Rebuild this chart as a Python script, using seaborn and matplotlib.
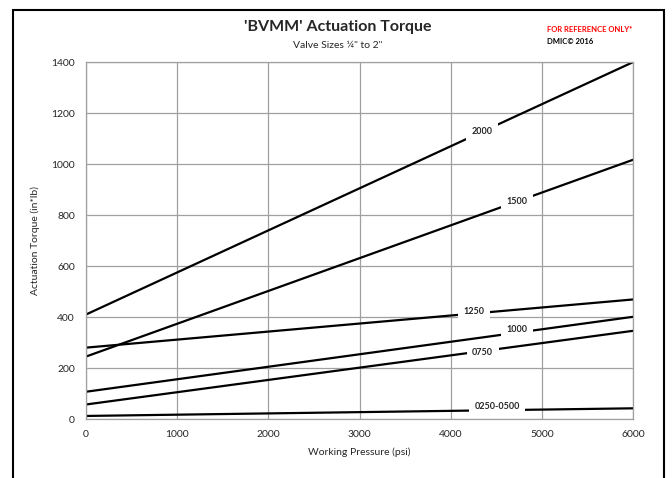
import matplotlib
matplotlib.use('Agg')
import matplotlib.pyplot as plt
import matplotlib.patches as mpatches
import seaborn as sns
import numpy as np
import pandas as pd

# Data (straight lines, torque at 0 and 6000 psi)
pressure = [0, 6000]
series_names = ['2000', '1500', '1250', '1000', '0750', '0250-0500']
torque_start = [410, 245, 280, 107, 57, 12]
torque_end = [1400, 1017, 469, 401, 346, 42]
label_pressure = [4340, 4730, 4260, 4730, 4350, 4510]
label_nudge = [0, 0, 8, 14, -6, 16]

x_ticks = [0, 1000, 2000, 3000, 4000, 5000, 6000]
y_ticks = [0, 200, 400, 600, 800, 1000, 1200, 1400]

rows = []
for name, t0, t1 in zip(series_names, torque_start, torque_end):
    rows.append({'size': name, 'pressure': pressure[0], 'torque': t0})
    rows.append({'size': name, 'pressure': pressure[1], 'torque': t1})
df = pd.DataFrame(rows)

sns.set_style("white")
plt.rcParams['font.family'] = ['Lato', 'DejaVu Sans']

fig = plt.figure(figsize=(6.72, 4.78), dpi=100)
ax = fig.add_axes([0.128, 0.1234, 0.814, 0.7466])

sns.lineplot(data=df, x='pressure', y='torque', hue='size',
             palette=['black'] * len(series_names), linewidth=1.6,
             legend=False, ax=ax)

# inline series labels with white boxes breaking the line
for name, t0, t1, xp, dy in zip(series_names, torque_start, torque_end,
                                label_pressure, label_nudge):
    yv = np.interp(xp, pressure, [t0, t1]) + dy
    ax.text(xp, yv, name, fontsize=6.5, fontweight='bold', ha='center',
            va='center', zorder=5,
            bbox=dict(boxstyle='square,pad=0.6', fc='white', ec='none'))

ax.set_xlim(0, 6000)
ax.set_ylim(0, 1400)
ax.set_xticks(x_ticks)
ax.set_yticks(y_ticks)
ax.grid(True, color='#a0a0a0', linewidth=0.9)
ax.set_axisbelow(True)
for s in ax.spines.values():
    s.set_color('#a0a0a0')
    s.set_linewidth(0.9)
ax.tick_params(axis='both', labelsize=7.5, length=3, color='#a0a0a0', pad=5)
ax.set_xlabel('Working Pressure (psi)', fontsize=7.5, labelpad=6)
ax.set_ylabel('Actuation Torque (in*lb)', fontsize=7.5, labelpad=8)

fig.text(0.503, 0.943, "'BVMM' Actuation Torque", fontsize=11.5,
         fontweight='bold', ha='center', va='center')
fig.text(0.503, 0.905, 'Valve Sizes \u00bc" to 2"', fontsize=7.5,
         ha='center', va='center')
fig.text(0.814, 0.939, 'FOR REFERENCE ONLY*', fontsize=5.5,
         fontweight='bold', color='red', ha='left', va='center')
fig.text(0.814, 0.914, 'DMIC\u00a9 2016', fontsize=5.5,
         fontweight='bold', color='black', ha='left', va='center')

# outer frame
border = mpatches.Rectangle((13 / 672, -0.05), 651 / 672, 1.05 - 10 / 478,
                            transform=fig.transFigure, fill=False,
                            edgecolor='black', linewidth=1.5)
fig.patches.append(border)

fig.savefig('out.png', dpi=100)
